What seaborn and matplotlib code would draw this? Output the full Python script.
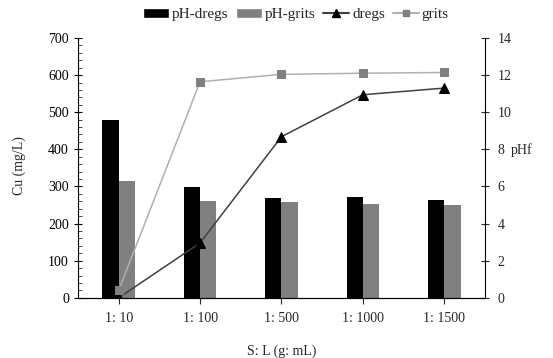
import numpy as np
import pandas as pd
import seaborn as sns
import matplotlib.pyplot as plt
from matplotlib.lines import Line2D
from matplotlib.patches import Patch
from matplotlib.ticker import MultipleLocator

# data
ratios = ['1: 10', '1: 100', '1: 500', '1: 1000', '1: 1500']
ph_dregs = [9.58, 5.98, 5.37, 5.44, 5.28]
ph_grits = [6.32, 5.22, 5.17, 5.06, 4.99]
cu_dregs = [0, 148, 434, 547, 565]
cu_grits = [20, 582, 602, 605, 607]

sns.set_style('white')
plt.rcParams['font.family'] = ['Liberation Serif', 'DejaVu Serif']

bars = pd.DataFrame({
    'ratio': ratios * 2,
    'pH': ph_dregs + ph_grits,
    'series': ['pH-dregs'] * 5 + ['pH-grits'] * 5,
})

fig, ax = plt.subplots(figsize=(5.53, 3.58), dpi=100)
fig.subplots_adjust(left=0.141, right=0.877, bottom=0.168, top=0.894)
ax2 = ax.twinx()

# bars on the right (pH) axis
sns.barplot(data=bars, x='ratio', y='pH', hue='series', ax=ax2, width=0.4,
            palette={'pH-dregs': 'black', 'pH-grits': '#808080'},
            saturation=1, legend=False, edgecolor='none')

# lines on the left (Cu) axis, drawn over the bars
pos = np.arange(len(ratios))
sns.lineplot(x=pos, y=cu_dregs, ax=ax, color='#404040', lw=1.1, marker='^',
             markersize=7, markerfacecolor='black', markeredgecolor='black')
sns.lineplot(x=pos, y=cu_grits, ax=ax, color='#b0b0b0', lw=1.1, marker='s',
             markersize=6, markerfacecolor='#808080', markeredgecolor='#808080')
ax.set_zorder(ax2.get_zorder() + 1)
ax.patch.set_visible(False)

ax.set_xlim(-0.5, 4.5)
ax.set_ylim(0, 700)
ax2.set_ylim(0, 14)
ax.yaxis.set_major_locator(MultipleLocator(100))
ax.yaxis.set_minor_locator(MultipleLocator(20))
ax2.yaxis.set_major_locator(MultipleLocator(2))
ax.set_xticks(pos)
ax.set_xticklabels(ratios)

for a in (ax, ax2):
    a.spines['top'].set_visible(False)
    for s in a.spines.values():
        s.set_color('black')
        s.set_linewidth(0.8)
ax2.spines['left'].set_visible(False)
ax.spines['right'].set_visible(False)

ax.tick_params(axis='y', which='major', direction='inout', length=6, width=0.8,
               labelsize=10, colors='black', left=True)
ax.tick_params(axis='y', which='minor', direction='in', length=3, width=0.6, left=True)
ax.tick_params(axis='x', direction='out', length=4, width=0.8, labelsize=10,
               bottom=True, pad=6)
ax2.tick_params(axis='y', direction='inout', length=6, width=0.8, labelsize=10,
                right=True, pad=6)
ax2.set_xlabel('')

ax.set_ylabel('Cu (mg/L)', fontsize=10)
ax.yaxis.set_label_coords(-0.128, 0.51)
ax.set_xlabel('S: L (g: mL)', fontsize=10)
ax.xaxis.set_label_coords(0.5, -0.18)
ax2.set_ylabel('pHf', fontsize=10, rotation=0, va='center', ha='center')
ax2.yaxis.set_label_coords(1.09, 0.57)

handles = [
    Patch(facecolor='black', label='pH-dregs'),
    Patch(facecolor='#808080', label='pH-grits'),
    Line2D([], [], color='#404040', marker='^', markerfacecolor='black',
           markeredgecolor='black', markersize=6, label='dregs'),
    Line2D([], [], color='#b0b0b0', marker='s', markerfacecolor='#808080',
           markeredgecolor='#808080', markersize=5, label='grits'),
]
fig.legend(handles=handles, loc='upper center', bbox_to_anchor=(0.535, 1.015),
           ncol=4, frameon=False, fontsize=11, handlelength=1.7,
           handleheight=0.55, handletextpad=0.2, columnspacing=0.5)

fig.savefig('out.png', dpi=100)
